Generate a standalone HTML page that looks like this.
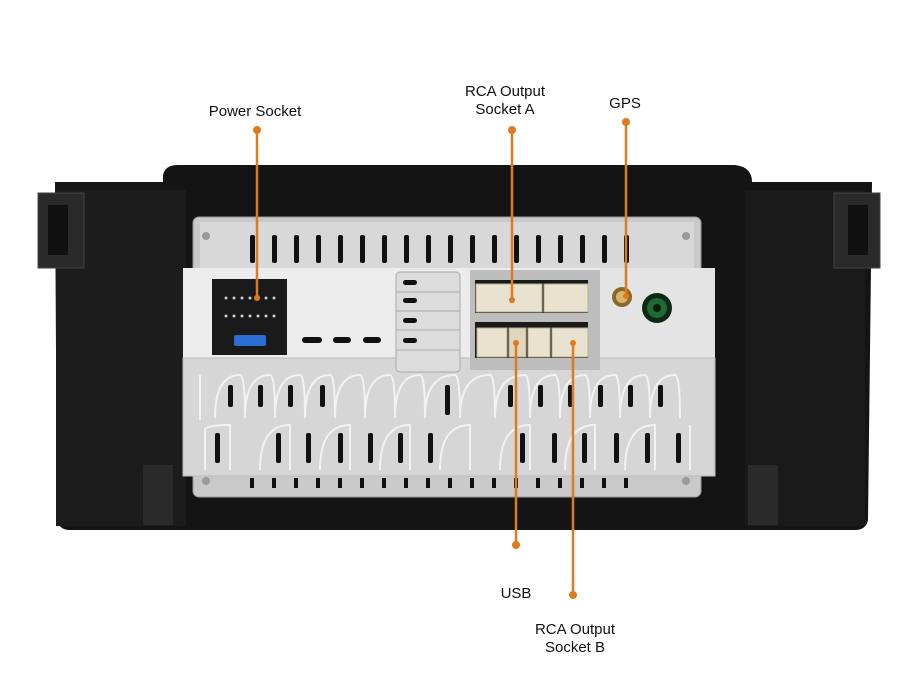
<!DOCTYPE html>
<html><head><style>
html,body{margin:0;padding:0;background:#fff;}
svg{display:block;}
text{font-family:"Liberation Sans",Arial,sans-serif;font-size:15px;fill:#111;}
</style></head><body>
<svg width="912" height="690" viewBox="0 0 912 690" xmlns="http://www.w3.org/2000/svg">
<rect width="912" height="690" fill="#fff"/>
<!-- black housing -->
<path d="M55 182 L163 182 L163 175 Q165 165 178 165 L735 165 Q752 167 752 182 L872 182 L868 520 Q866 530 855 530 L70 530 Q58 530 57 518 Z" fill="#141414"/>
<rect x="56" y="190" width="130" height="336" fill="#1c1c1c"/>
<rect x="745" y="190" width="120" height="336" fill="#1a1a1a"/>
<!-- side brackets -->
<rect x="38" y="193" width="46" height="75" fill="#2a2a2a" stroke="#444"/>
<rect x="48" y="205" width="20" height="50" fill="#111"/>
<rect x="834" y="193" width="46" height="75" fill="#2a2a2a" stroke="#444"/>
<rect x="848" y="205" width="20" height="50" fill="#111"/>
<rect x="143" y="465" width="30" height="60" fill="#2a2a2a"/>
<rect x="748" y="465" width="30" height="60" fill="#2a2a2a"/>
<!-- silver chassis -->
<rect x="193" y="217" width="508" height="280" rx="6" fill="#c9c9c9" stroke="#999"/>
<rect x="200" y="222" width="494" height="50" fill="#d8d8d8"/>
<g fill="#111">
<rect x="250" y="235" width="5" height="28" rx="2"/><rect x="272" y="235" width="5" height="28" rx="2"/><rect x="294" y="235" width="5" height="28" rx="2"/><rect x="316" y="235" width="5" height="28" rx="2"/><rect x="338" y="235" width="5" height="28" rx="2"/><rect x="360" y="235" width="5" height="28" rx="2"/><rect x="382" y="235" width="5" height="28" rx="2"/><rect x="404" y="235" width="5" height="28" rx="2"/><rect x="426" y="235" width="5" height="28" rx="2"/><rect x="448" y="235" width="5" height="28" rx="2"/><rect x="470" y="235" width="5" height="28" rx="2"/><rect x="492" y="235" width="5" height="28" rx="2"/><rect x="514" y="235" width="5" height="28" rx="2"/><rect x="536" y="235" width="5" height="28" rx="2"/><rect x="558" y="235" width="5" height="28" rx="2"/><rect x="580" y="235" width="5" height="28" rx="2"/><rect x="602" y="235" width="5" height="28" rx="2"/><rect x="624" y="235" width="5" height="28" rx="2"/>
</g>
<!-- middle panel -->
<rect x="183" y="268" width="532" height="105" fill="#ececec"/>
<rect x="600" y="268" width="115" height="208" fill="#e4e4e4"/>
<!-- lower panel -->
<rect x="183" y="358" width="532" height="118" fill="#d6d6d6" stroke="#bbb"/>
<g fill="none" stroke="#f2f2f2" stroke-width="2">
<path d="M200 420 L200 375 M215 418 Q215 375 240 375 Q245 375 245 418 M245 418 Q245 375 270 375 Q275 375 275 418 M275 418 Q275 375 300 375 Q305 375 305 418 M305 418 Q305 375 330 375 Q335 375 335 418 M335 418 Q335 375 360 375 Q365 375 365 418 M365 418 Q365 375 390 375 Q395 375 395 418 M395 418 Q395 375 420 375 Q425 375 425 418 M425 418 Q425 375 455 375 Q460 375 460 418 M460 418 Q460 375 490 375 Q495 375 495 418 M495 418 Q495 375 525 375 Q530 375 530 418 M530 418 Q530 375 555 375 Q560 375 560 418 M560 418 Q560 375 585 375 Q590 375 590 418 M590 418 Q590 375 615 375 Q620 375 620 418 M620 418 Q620 375 645 375 Q650 375 650 418 M650 418 Q650 375 675 375 Q680 375 680 418"/>
<path d="M205 470 L205 430 Q205 425 230 425 L230 470 M260 470 Q260 425 290 425 L290 470 M320 470 Q320 425 350 425 L350 470 M380 470 Q380 425 410 425 L410 470 M440 470 Q440 425 470 425 L470 470 M500 470 Q500 425 530 425 L530 470 M565 470 Q565 425 595 425 L595 470 M625 470 Q625 425 655 425 L655 470 M690 470 L690 425"/>
</g>
<g fill="#111">
<rect x="228" y="385" width="5" height="22" rx="2"/><rect x="258" y="385" width="5" height="22" rx="2"/><rect x="288" y="385" width="5" height="22" rx="2"/><rect x="320" y="385" width="5" height="22" rx="2"/><rect x="445" y="385" width="5" height="30" rx="2"/><rect x="508" y="385" width="5" height="22" rx="2"/><rect x="538" y="385" width="5" height="22" rx="2"/><rect x="568" y="385" width="5" height="22" rx="2"/><rect x="598" y="385" width="5" height="22" rx="2"/><rect x="628" y="385" width="5" height="22" rx="2"/><rect x="658" y="385" width="5" height="22" rx="2"/>
<rect x="215" y="433" width="5" height="30" rx="2"/><rect x="276" y="433" width="5" height="30" rx="2"/><rect x="306" y="433" width="5" height="30" rx="2"/><rect x="338" y="433" width="5" height="30" rx="2"/><rect x="368" y="433" width="5" height="30" rx="2"/><rect x="398" y="433" width="5" height="30" rx="2"/><rect x="428" y="433" width="5" height="30" rx="2"/><rect x="520" y="433" width="5" height="30" rx="2"/><rect x="552" y="433" width="5" height="30" rx="2"/><rect x="582" y="433" width="5" height="30" rx="2"/><rect x="614" y="433" width="5" height="30" rx="2"/><rect x="645" y="433" width="5" height="30" rx="2"/><rect x="676" y="433" width="5" height="30" rx="2"/>
<rect x="250" y="478" width="4" height="10"/><rect x="272" y="478" width="4" height="10"/><rect x="294" y="478" width="4" height="10"/><rect x="316" y="478" width="4" height="10"/><rect x="338" y="478" width="4" height="10"/><rect x="360" y="478" width="4" height="10"/><rect x="382" y="478" width="4" height="10"/><rect x="404" y="478" width="4" height="10"/><rect x="426" y="478" width="4" height="10"/><rect x="448" y="478" width="4" height="10"/><rect x="470" y="478" width="4" height="10"/><rect x="492" y="478" width="4" height="10"/><rect x="514" y="478" width="4" height="10"/><rect x="536" y="478" width="4" height="10"/><rect x="558" y="478" width="4" height="10"/><rect x="580" y="478" width="4" height="10"/><rect x="602" y="478" width="4" height="10"/><rect x="624" y="478" width="4" height="10"/>
</g>
<circle cx="206" cy="236" r="4" fill="#999"/><circle cx="686" cy="236" r="4" fill="#999"/>
<circle cx="206" cy="481" r="4" fill="#999"/><circle cx="686" cy="481" r="4" fill="#999"/>
<!-- power connector -->
<rect x="212" y="279" width="75" height="76" fill="#1a1a1a"/>
<g fill="#ccc"><circle cx="226" cy="298" r="1.5"/><circle cx="234" cy="298" r="1.5"/><circle cx="242" cy="298" r="1.5"/><circle cx="250" cy="298" r="1.5"/><circle cx="266" cy="298" r="1.5"/><circle cx="274" cy="298" r="1.5"/><circle cx="226" cy="316" r="1.5"/><circle cx="234" cy="316" r="1.5"/><circle cx="242" cy="316" r="1.5"/><circle cx="250" cy="316" r="1.5"/><circle cx="258" cy="316" r="1.5"/><circle cx="266" cy="316" r="1.5"/><circle cx="274" cy="316" r="1.5"/></g>
<rect x="234" y="335" width="32" height="11" rx="2" fill="#2a6fd6"/>
<!-- dashes -->
<g fill="#111"><rect x="302" y="337" width="20" height="6" rx="3"/><rect x="333" y="337" width="18" height="6" rx="3"/><rect x="363" y="337" width="18" height="6" rx="3"/></g>
<!-- fins -->
<rect x="396" y="272" width="64" height="100" rx="4" fill="#dcdcdc" stroke="#aaa"/>
<g fill="#111"><rect x="403" y="280" width="14" height="5" rx="2.5"/><rect x="403" y="298" width="14" height="5" rx="2.5"/><rect x="403" y="318" width="14" height="5" rx="2.5"/><rect x="403" y="338" width="14" height="5" rx="2.5"/></g>
<g stroke="#aaa"><line x1="396" y1="292" x2="460" y2="292"/><line x1="396" y1="311" x2="460" y2="311"/><line x1="396" y1="330" x2="460" y2="330"/><line x1="396" y1="350" x2="460" y2="350"/></g>
<!-- RCA recess -->
<rect x="470" y="270" width="130" height="100" fill="#bdbdbd"/>
<rect x="475" y="280" width="113" height="33" fill="#1a1a1a"/>
<rect x="476" y="284" width="66" height="28" fill="#e9e2cf" stroke="#b9ae93"/>
<rect x="544" y="284" width="44" height="28" fill="#e9e2cf" stroke="#b9ae93"/>
<rect x="475" y="322" width="113" height="36" fill="#1a1a1a"/>
<rect x="477" y="328" width="30" height="29" fill="#e9e2cf" stroke="#b9ae93"/>
<rect x="509" y="328" width="17" height="29" fill="#e0d6bd" stroke="#b9ae93"/>
<rect x="528" y="328" width="22" height="29" fill="#e9e2cf" stroke="#b9ae93"/>
<rect x="552" y="328" width="36" height="29" fill="#e9e2cf" stroke="#b9ae93"/>
<!-- GPS / green -->
<circle cx="622" cy="297" r="10" fill="#8a6a2a"/><circle cx="622" cy="297" r="6" fill="#d7b56a"/>
<circle cx="657" cy="308" r="15" fill="#0f2a14"/><circle cx="657" cy="308" r="10" fill="#1f6a34"/><circle cx="657" cy="308" r="4" fill="#0b1d0f"/>
<!-- leader lines -->
<g stroke="#e07a1f" stroke-width="2.5" fill="none">
<line x1="257" y1="130" x2="257" y2="298"/>
<line x1="512" y1="130" x2="512" y2="300"/>
<line x1="626" y1="122" x2="626" y2="296"/>
<line x1="516" y1="343" x2="516" y2="545"/>
<line x1="573" y1="343" x2="573" y2="595"/>
</g>
<g fill="#e07a1f">
<circle cx="257" cy="130" r="4"/><circle cx="512" cy="130" r="4"/><circle cx="626" cy="122" r="4"/>
<circle cx="257" cy="298" r="3"/><circle cx="512" cy="300" r="3"/><circle cx="626" cy="296" r="3"/>
<circle cx="516" cy="343" r="3"/><circle cx="573" cy="343" r="3"/>
<circle cx="516" cy="545" r="4"/><circle cx="573" cy="595" r="4"/>
</g>
<g text-anchor="middle">
<text x="255" y="116">Power Socket</text>
<text x="505" y="96">RCA Output</text>
<text x="505" y="114">Socket A</text>
<text x="625" y="108">GPS</text>
<text x="516" y="598">USB</text>
<text x="575" y="634">RCA Output</text>
<text x="575" y="652">Socket B</text>
</g>
</svg>
</body></html>
